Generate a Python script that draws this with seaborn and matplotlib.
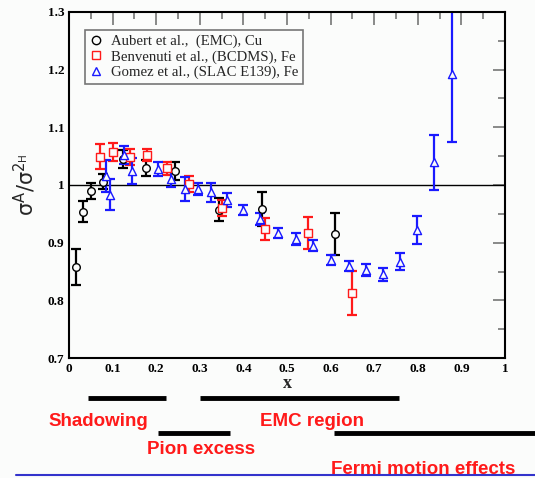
# EMC ratio plot with region annotations
import matplotlib
matplotlib.use("Agg")
import matplotlib.pyplot as plt
import seaborn as sns
import numpy as np
import pandas as pd
from matplotlib.ticker import MultipleLocator, FormatStrFormatter
from matplotlib.lines import Line2D

sns.set_style("white")
plt.rcParams['font.family'] = ['Liberation Serif', 'DejaVu Serif']
plt.rcParams['mathtext.fontset'] = 'dejavusans'

# Aubert et al. (EMC), Cu
emc_x = [0.016, 0.031, 0.050, 0.077, 0.123, 0.176, 0.243, 0.343, 0.442, 0.610]
emc_y = [0.858, 0.954, 0.990, 1.006, 1.045, 1.029, 1.024, 0.957, 0.958, 0.915]
emc_e = [0.031, 0.018, 0.014, 0.013, 0.016, 0.014, 0.015, 0.020, 0.029, 0.037]

# Benvenuti et al. (BCDMS), Fe
bcdms_x = [0.070, 0.100, 0.140, 0.180, 0.224, 0.276, 0.350, 0.450, 0.549, 0.648]
bcdms_y = [1.049, 1.057, 1.049, 1.052, 1.029, 1.002, 0.960, 0.923, 0.917, 0.813]
bcdms_e = [0.022, 0.015, 0.014, 0.011, 0.011, 0.014, 0.014, 0.019, 0.028, 0.038]

# Gomez et al. (SLAC E139), Fe
slac_x = [0.085, 0.094, 0.125, 0.144, 0.205, 0.234, 0.266, 0.295, 0.325, 0.362,
          0.398, 0.438, 0.479, 0.520, 0.559, 0.600, 0.641, 0.680, 0.721, 0.759,
          0.797, 0.838, 0.878]
slac_y = [1.015, 0.983, 1.052, 1.024, 1.028, 1.010, 0.993, 0.993, 0.987, 0.974,
          0.957, 0.941, 0.917, 0.906, 0.895, 0.870, 0.860, 0.853, 0.845, 0.867,
          0.922, 1.039, 1.192]
slac_e = [0.028, 0.027, 0.015, 0.022, 0.012, 0.013, 0.020, 0.010, 0.017, 0.012,
          0.009, 0.010, 0.009, 0.010, 0.009, 0.008, 0.009, 0.010, 0.011, 0.015,
          0.024, 0.047, 0.117]

series = [
    ("Aubert et al.,  (EMC), Cu", emc_x, emc_y, emc_e, 'black', 'o', 30),
    ("Benvenuti et al., (BCDMS), Fe", bcdms_x, bcdms_y, bcdms_e, '#ff1a1a', 's', 28),
    ("Gomez et al., (SLAC E139), Fe", slac_x, slac_y, slac_e, '#1a1aff', '^', 34),
]

bg = '#fbfcfb'
fig = plt.figure(figsize=(5.35, 4.78), dpi=100, facecolor=bg)
ax = fig.add_axes([0.129, 0.251, 0.815, 0.724], facecolor=bg)

ax.axhline(1.0, color='black', lw=1.0, zorder=1)

handles = []
for label, xs, ys, es, col, mk, sz in series:
    df = pd.DataFrame({'x': xs, 'y': ys, 'e': es})
    ax.errorbar(df['x'], df['y'], yerr=df['e'], fmt='none', ecolor=col,
                elinewidth=1.6, capsize=3.5, capthick=1.6, zorder=2)
    sns.scatterplot(data=df, x='x', y='y', marker=mk, s=sz, facecolor=bg,
                    edgecolor=col, linewidth=1.0, ax=ax, zorder=3, legend=False)
    handles.append(Line2D([], [], ls='none', marker=mk, markersize=6,
                          markerfacecolor='none', markeredgecolor=col,
                          markeredgewidth=1.0, label=label))

ax.set_xlim(0, 1)
ax.set_ylim(0.7, 1.3)
ax.xaxis.set_major_locator(MultipleLocator(0.1))
ax.xaxis.set_minor_locator(MultipleLocator(0.05))
ax.yaxis.set_major_locator(MultipleLocator(0.1))
ax.yaxis.set_minor_locator(MultipleLocator(0.05))
ax.xaxis.set_major_formatter(FormatStrFormatter('%g'))
ax.yaxis.set_major_formatter(FormatStrFormatter('%g'))
ax.tick_params(which='both', direction='in', top=True, right=True,
               color='#808080', width=1.3, labelsize=9.5, labelcolor='black')
ax.tick_params(which='major', length=9)
ax.tick_params(which='minor', length=5)
for t in ax.get_xticklabels() + ax.get_yticklabels():
    t.set_fontweight('bold')
for sp in ax.spines.values():
    sp.set_color('black')
    sp.set_linewidth(1.5)

ax.set_xlabel('x', fontsize=13, fontweight='bold', labelpad=0)
ax.set_ylabel(r'$\mathrm{\sigma^{A}/\sigma^{2_{H}}}$', fontsize=15, labelpad=6)

leg = ax.legend(handles=handles, loc='upper left', bbox_to_anchor=(0.036, 0.948),
                borderaxespad=0, frameon=True, fancybox=False, fontsize=10.6,
                handlelength=0.9, handletextpad=0.6, labelspacing=0.15,
                borderpad=0.3)
leg.get_frame().set_edgecolor('#555555')
leg.get_frame().set_linewidth(1.2)
leg.get_frame().set_facecolor(bg)

# region annotations below the axes (figure pixel coordinates)
W, H = 535.0, 478.0
bars = [(88, 166, 397.7), (200, 399, 397.7), (158, 230, 433), (334, 535, 433)]
for x0, x1, yy in bars:
    fig.add_artist(Line2D([x0 / W, x1 / W], [1 - yy / H, 1 - yy / H],
                          color='black', lw=3.5, solid_capstyle='butt'))
fig.add_artist(Line2D([16 / W, 1.0], [1 - 475 / H, 1 - 475 / H],
                      color='#3333cc', lw=1.5))

labels = [("Shadowing", 48, 421), ("EMC region", 260, 421),
          ("Pion excess", 147, 449), ("Fermi motion effects", 331, 469)]
for txt, x0, yy in labels:
    fig.text(x0 / W, 1 - yy / H, txt, color='#ff1a1a', fontsize=13.5,
             fontweight='bold', family='Liberation Sans', ha='left', va='center')

fig.savefig('out.png', dpi=100, facecolor=bg)
